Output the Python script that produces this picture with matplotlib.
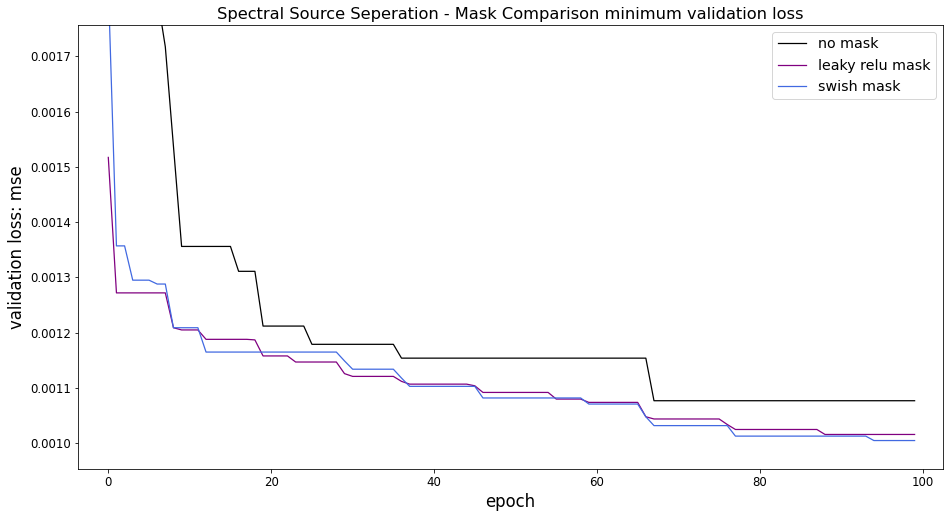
#!/usr/bin/env python3
"""
Plot the running minimum of the validation loss per epoch for the
spectral source separation models with and without a mask.
"""
import matplotlib as mpl
mpl.use('Agg')
import matplotlib.pyplot as plt

# minimum validation loss (mse) after each epoch, epochs 0..99
no_mask = [
	0.00390, 0.00285, 0.00240, 0.00215, 0.00198, 0.00188, 0.00181, 0.001717, 0.001537, 0.001356,
	0.001356, 0.001356, 0.001356, 0.001356, 0.001356, 0.001356, 0.001311, 0.001311, 0.001311, 0.001212,
	0.001212, 0.001212, 0.001212, 0.001212, 0.001212, 0.001179, 0.001179, 0.001179, 0.001179, 0.001179,
	0.001179, 0.001179, 0.001179, 0.001179, 0.001179, 0.001179, 0.001154, 0.001154, 0.001154, 0.001154,
	0.001154, 0.001154, 0.001154, 0.001154, 0.001154, 0.001154, 0.001154, 0.001154, 0.001154, 0.001154,
	0.001154, 0.001154, 0.001154, 0.001154, 0.001154, 0.001154, 0.001154, 0.001154, 0.001154, 0.001154,
	0.001154, 0.001154, 0.001154, 0.001154, 0.001154, 0.001154, 0.001154, 0.001077, 0.001077, 0.001077,
	0.001077, 0.001077, 0.001077, 0.001077, 0.001077, 0.001077, 0.001077, 0.001077, 0.001077, 0.001077,
	0.001077, 0.001077, 0.001077, 0.001077, 0.001077, 0.001077, 0.001077, 0.001077, 0.001077, 0.001077,
	0.001077, 0.001077, 0.001077, 0.001077, 0.001077, 0.001077, 0.001077, 0.001077, 0.001077, 0.001077,
]

leaky_relu_mask = [
	0.001517, 0.001272, 0.001272, 0.001272, 0.001272, 0.001272, 0.001272, 0.001272, 0.001209, 0.001205,
	0.001205, 0.001205, 0.001188, 0.001188, 0.001188, 0.001188, 0.001188, 0.001188, 0.001187, 0.001158,
	0.001158, 0.001158, 0.001158, 0.001147, 0.001147, 0.001147, 0.001147, 0.001147, 0.001147, 0.001126,
	0.001121, 0.001121, 0.001121, 0.001121, 0.001121, 0.001121, 0.001112, 0.001107, 0.001107, 0.001107,
	0.001107, 0.001107, 0.001107, 0.001107, 0.001107, 0.001104, 0.001092, 0.001092, 0.001092, 0.001092,
	0.001092, 0.001092, 0.001092, 0.001092, 0.001092, 0.001080, 0.001080, 0.001080, 0.001080, 0.001074,
	0.001074, 0.001074, 0.001074, 0.001074, 0.001074, 0.001074, 0.001048, 0.001044, 0.001044, 0.001044,
	0.001044, 0.001044, 0.001044, 0.001044, 0.001044, 0.001044, 0.001034, 0.001025, 0.001025, 0.001025,
	0.001025, 0.001025, 0.001025, 0.001025, 0.001025, 0.001025, 0.001025, 0.001025, 0.001016, 0.001016,
	0.001016, 0.001016, 0.001016, 0.001016, 0.001016, 0.001016, 0.001016, 0.001016, 0.001016, 0.001016,
]

swish_mask = [
	0.001830, 0.001357, 0.001357, 0.001295, 0.001295, 0.001295, 0.001288, 0.001288, 0.001209, 0.001209,
	0.001209, 0.001209, 0.001165, 0.001165, 0.001165, 0.001165, 0.001165, 0.001165, 0.001165, 0.001165,
	0.001165, 0.001165, 0.001165, 0.001165, 0.001165, 0.001165, 0.001165, 0.001165, 0.001165, 0.001149,
	0.001134, 0.001134, 0.001134, 0.001134, 0.001134, 0.001134, 0.001118, 0.001103, 0.001103, 0.001103,
	0.001103, 0.001103, 0.001103, 0.001103, 0.001103, 0.001103, 0.001082, 0.001082, 0.001082, 0.001082,
	0.001082, 0.001082, 0.001082, 0.001082, 0.001082, 0.001082, 0.001082, 0.001082, 0.001082, 0.001071,
	0.001071, 0.001071, 0.001071, 0.001071, 0.001071, 0.001071, 0.001048, 0.001032, 0.001032, 0.001032,
	0.001032, 0.001032, 0.001032, 0.001032, 0.001032, 0.001032, 0.001032, 0.001013, 0.001013, 0.001013,
	0.001013, 0.001013, 0.001013, 0.001013, 0.001013, 0.001013, 0.001013, 0.001013, 0.001013, 0.001013,
	0.001013, 0.001013, 0.001013, 0.001013, 0.001005, 0.001005, 0.001005, 0.001005, 0.001005, 0.001005,
]

series = [
	('no mask', no_mask, 'black'),
	('leaky relu mask', leaky_relu_mask, 'purple'),
	('swish mask', swish_mask, 'royalblue'),
]


def main():
	fig = plt.figure(figsize=(945 / 72, 512 / 72), dpi=72)
	ax = fig.add_axes([0.0822, 0.0834, 0.9158, 0.8684])
	for label, losses, color in series:
		ax.plot(range(len(losses)), losses, color=color, linewidth=1.25, label=label)
	ax.set_xlim(-3.76, 102.5)
	ax.set_ylim(0.000953, 0.001757)
	ax.set_title('Spectral Source Seperation - Mask Comparison minimum validation loss', fontsize=16.2)
	ax.set_xlabel('epoch', fontsize=16.5)
	ax.set_ylabel('validation loss: mse', fontsize=16.5)
	ax.tick_params(labelsize=11.8)
	ax.legend(loc='upper right', fontsize=14.2)
	fig.savefig('out.png', dpi=72)


if __name__ == '__main__':
	main()
